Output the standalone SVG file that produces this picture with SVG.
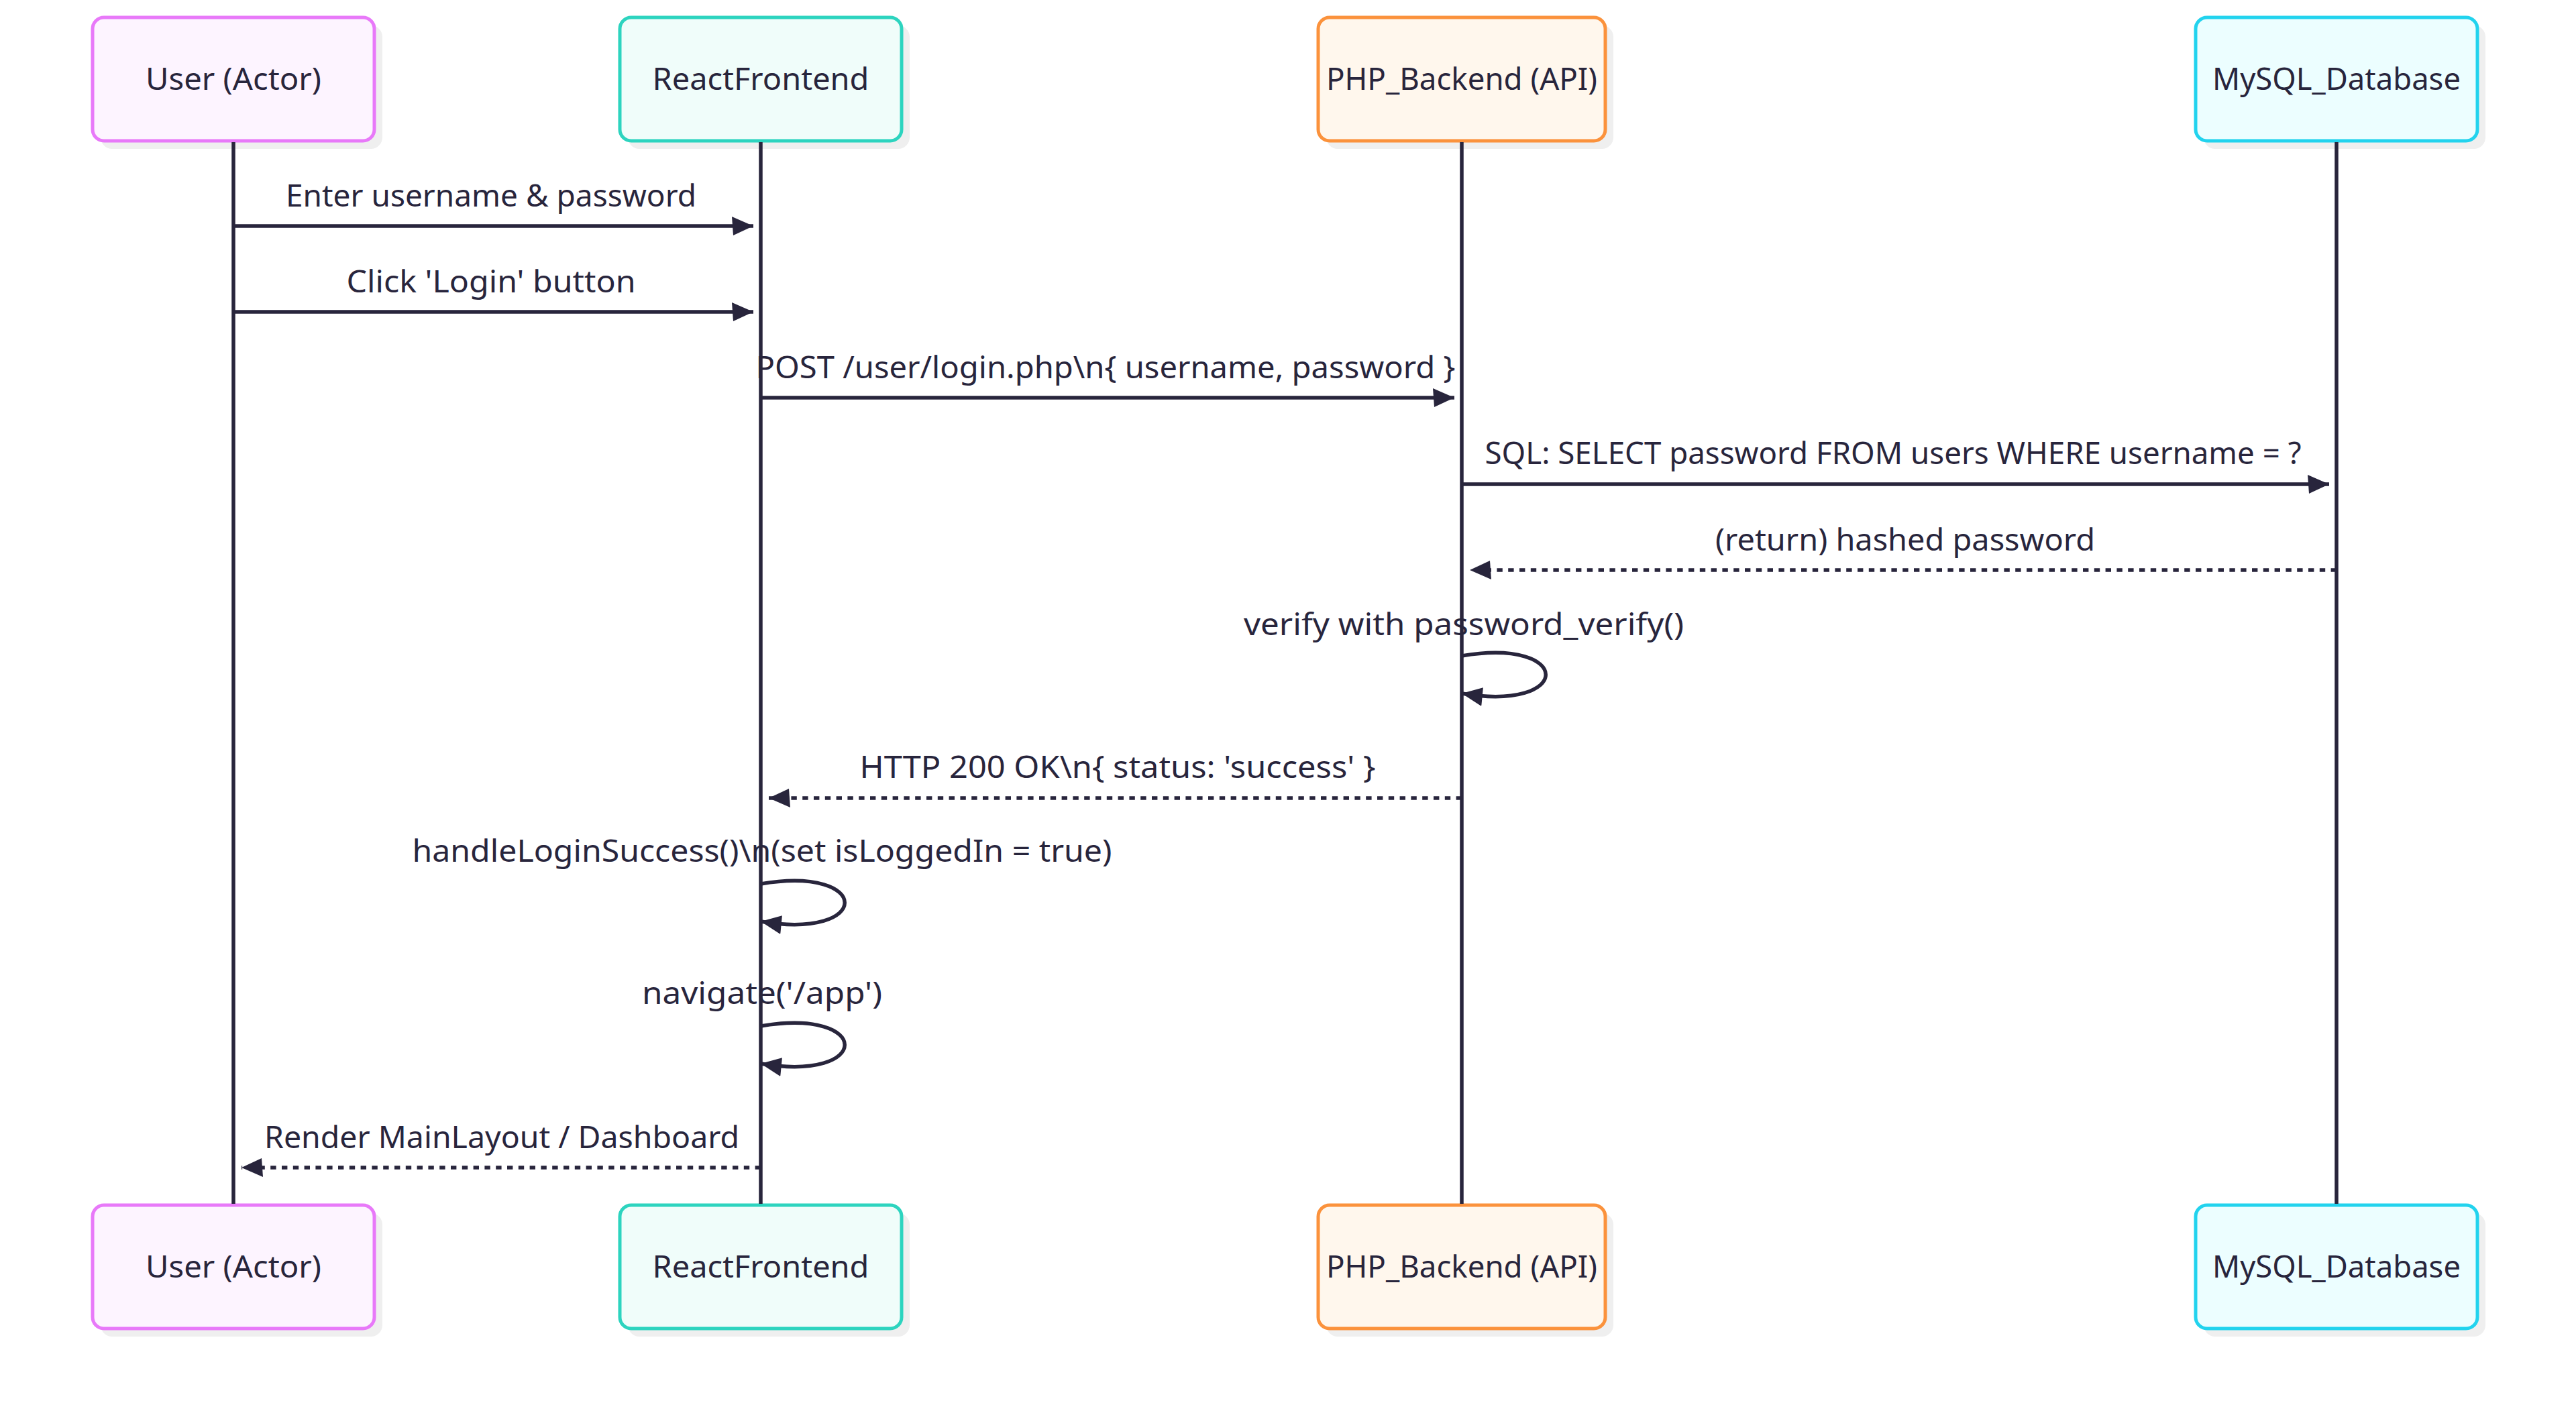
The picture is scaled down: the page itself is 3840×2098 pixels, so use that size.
<svg xmlns="http://www.w3.org/2000/svg" width="3840" height="2098" viewBox="0 0 3840 2098">
<style>
  text { font-family: "Noto Sans", "Inter", "Liberation Sans", sans-serif; font-size: 45px; fill: #28253c; }
  .actor-text { text-anchor: middle; }
  .msg { text-anchor: middle; }
  .shadow { fill: #efefef; stroke: none; }
  .box { stroke-width: 5; }
  .lifeline { stroke: #28253c; stroke-width: 5.5; fill: none; }
  .line { stroke: #28253c; stroke-width: 5.5; fill: none; marker-end: url(#arrow); }
  .dotted { stroke-dasharray: 8.4 8.4; }
  .user { fill: #fdf4ff; stroke: #e879f9; }
  .react { fill: #f0fdfa; stroke: #2dd4bf; }
  .php { fill: #fff7ed; stroke: #fb923c; }
  .mysql { fill: #ecfeff; stroke: #22d3ee; }
</style>
<defs>
  <marker id="arrow" markerUnits="userSpaceOnUse" markerWidth="34" markerHeight="32" refX="30" refY="14" orient="auto" viewBox="-2 0 34 28">
    <path d="M -2 0 L 30 14 L 0 28 z" fill="#28253c"/>
  </marker>
</defs>
<rect width="3840" height="2098" fill="#ffffff"/>

<g id="actor-user-top">
  <rect class="shadow" x="150" y="38" width="420" height="184" rx="17"/>
  <rect class="box user" x="138" y="26" width="420" height="184" rx="17"/>
  <text class="actor-text" x="348" y="134" textLength="262" lengthAdjust="spacingAndGlyphs">User (Actor)</text>
</g>
<g id="actor-react-top">
  <rect class="shadow" x="936" y="38" width="420" height="184" rx="17"/>
  <rect class="box react" x="924" y="26" width="420" height="184" rx="17"/>
  <text class="actor-text" x="1134" y="134" textLength="323" lengthAdjust="spacingAndGlyphs">ReactFrontend</text>
</g>
<g id="actor-php-top">
  <rect class="shadow" x="1977" y="38" width="428" height="184" rx="17"/>
  <rect class="box php" x="1965" y="26" width="428" height="184" rx="17"/>
  <text class="actor-text" x="2179" y="134" textLength="404" lengthAdjust="spacingAndGlyphs">PHP_Backend (API)</text>
</g>
<g id="actor-mysql-top">
  <rect class="shadow" x="3285" y="38" width="420" height="184" rx="17"/>
  <rect class="box mysql" x="3273" y="26" width="420" height="184" rx="17"/>
  <text class="actor-text" x="3483" y="134" textLength="370" lengthAdjust="spacingAndGlyphs">MySQL_Database</text>
</g>

<g id="actor-user-bottom">
  <rect class="shadow" x="150" y="1809" width="420" height="184" rx="17"/>
  <rect class="box user" x="138" y="1797" width="420" height="184" rx="17"/>
  <text class="actor-text" x="348" y="1905" textLength="262" lengthAdjust="spacingAndGlyphs">User (Actor)</text>
</g>
<g id="actor-react-bottom">
  <rect class="shadow" x="936" y="1809" width="420" height="184" rx="17"/>
  <rect class="box react" x="924" y="1797" width="420" height="184" rx="17"/>
  <text class="actor-text" x="1134" y="1905" textLength="323" lengthAdjust="spacingAndGlyphs">ReactFrontend</text>
</g>
<g id="actor-php-bottom">
  <rect class="shadow" x="1977" y="1809" width="428" height="184" rx="17"/>
  <rect class="box php" x="1965" y="1797" width="428" height="184" rx="17"/>
  <text class="actor-text" x="2179" y="1905" textLength="404" lengthAdjust="spacingAndGlyphs">PHP_Backend (API)</text>
</g>
<g id="actor-mysql-bottom">
  <rect class="shadow" x="3285" y="1809" width="420" height="184" rx="17"/>
  <rect class="box mysql" x="3273" y="1797" width="420" height="184" rx="17"/>
  <text class="actor-text" x="3483" y="1905" textLength="370" lengthAdjust="spacingAndGlyphs">MySQL_Database</text>
</g>

<g id="lifelines">
  <line class="lifeline" x1="348" y1="212" x2="348" y2="1795"/>
  <line class="lifeline" x1="1134" y1="212" x2="1134" y2="1795"/>
  <line class="lifeline" x1="2179" y1="212" x2="2179" y2="1795"/>
  <line class="lifeline" x1="3483" y1="212" x2="3483" y2="1795"/>
</g>

<g id="connectors">
  <path class="line" d="M 348 337 L 1123 337"/>
  <path class="line" d="M 348 465 L 1123 465"/>
  <path class="line" d="M 1134 593 L 2168 593"/>
  <path class="line" d="M 2179 722 L 3472 722"/>
  <path class="line dotted" d="M 3483 850 L 2191 850"/>
  <path class="line" d="M 2179 978 C 2346 950 2346 1062 2179 1034"/>
  <path class="line dotted" d="M 2179 1190 L 1146 1190"/>
  <path class="line" d="M 1134 1318 C 1301 1290 1301 1402 1134 1374"/>
  <path class="line" d="M 1134 1530 C 1301 1502 1301 1614 1134 1586"/>
  <path class="line dotted" d="M 1134 1741 L 360 1741"/>
</g>

<g id="message-labels">
  <text class="msg" x="732" y="308" textLength="612" lengthAdjust="spacingAndGlyphs">Enter username &amp; password</text>
  <text class="msg" x="732" y="436" textLength="431" lengthAdjust="spacingAndGlyphs">Click 'Login' button</text>
  <text class="msg" x="1648" y="564" textLength="1043" lengthAdjust="spacingAndGlyphs">POST /user/login.php\n{ username, password }</text>
  <text class="msg" x="2822" y="692" textLength="1217" lengthAdjust="spacingAndGlyphs">SQL: SELECT password FROM users WHERE username = ?</text>
  <text class="msg" x="2840" y="821" textLength="566" lengthAdjust="spacingAndGlyphs">(return) hashed password</text>
  <text class="msg" x="2182" y="947" textLength="656" lengthAdjust="spacingAndGlyphs">verify with password_verify()</text>
  <text class="msg" x="1666" y="1160" textLength="769" lengthAdjust="spacingAndGlyphs">HTTP 200 OK\n{ status: 'success' }</text>
  <text class="msg" x="1136" y="1285" textLength="1043" lengthAdjust="spacingAndGlyphs">handleLoginSuccess()\n(set isLoggedIn = true)</text>
  <text class="msg" x="1136" y="1497" textLength="358" lengthAdjust="spacingAndGlyphs">navigate('/app')</text>
  <text class="msg" x="748" y="1712" textLength="708" lengthAdjust="spacingAndGlyphs">Render MainLayout / Dashboard</text>
</g>
</svg>
